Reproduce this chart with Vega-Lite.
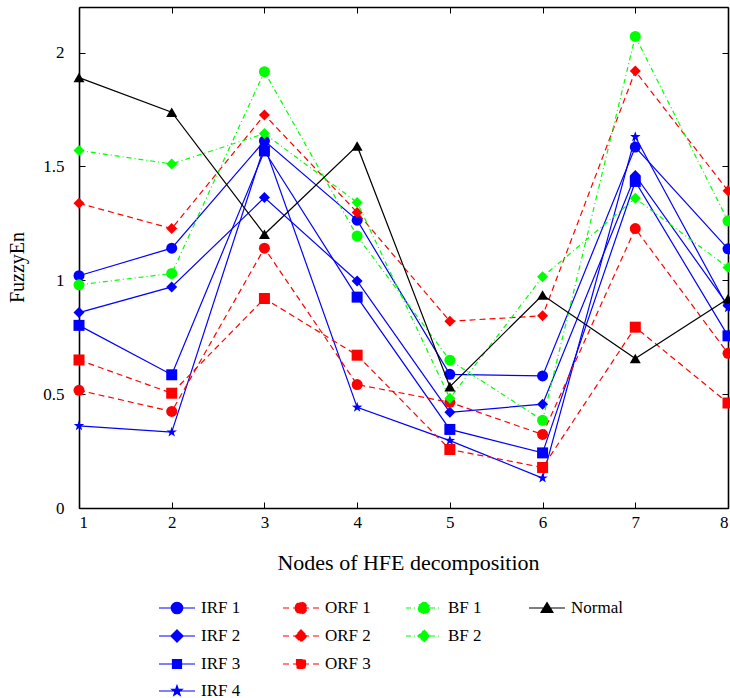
{
  "$schema": "https://vega.github.io/schema/vega-lite/v6.json",
  "width": 649,
  "height": 501,
  "autosize": {"type": "none"},
  "padding": {"left": 79, "top": 7, "right": 2, "bottom": 190},
  "background": "white",
  "data": {"values": [
    {"node":1,"series":"IRF 1","family":"IRF","v":1.02},{"node":2,"series":"IRF 1","family":"IRF","v":1.141},{"node":3,"series":"IRF 1","family":"IRF","v":1.612},{"node":4,"series":"IRF 1","family":"IRF","v":1.264},{"node":5,"series":"IRF 1","family":"IRF","v":0.587},{"node":6,"series":"IRF 1","family":"IRF","v":0.58},{"node":7,"series":"IRF 1","family":"IRF","v":1.585},{"node":8,"series":"IRF 1","family":"IRF","v":1.138},
    {"node":1,"series":"IRF 2","family":"IRF","v":0.858},{"node":2,"series":"IRF 2","family":"IRF","v":0.971},{"node":3,"series":"IRF 2","family":"IRF","v":1.363},{"node":4,"series":"IRF 2","family":"IRF","v":0.997},{"node":5,"series":"IRF 2","family":"IRF","v":0.42},{"node":6,"series":"IRF 2","family":"IRF","v":0.456},{"node":7,"series":"IRF 2","family":"IRF","v":1.46},{"node":8,"series":"IRF 2","family":"IRF","v":0.89},
    {"node":1,"series":"IRF 3","family":"IRF","v":0.802},{"node":2,"series":"IRF 3","family":"IRF","v":0.585},{"node":3,"series":"IRF 3","family":"IRF","v":1.568},{"node":4,"series":"IRF 3","family":"IRF","v":0.926},{"node":5,"series":"IRF 3","family":"IRF","v":0.345},{"node":6,"series":"IRF 3","family":"IRF","v":0.242},{"node":7,"series":"IRF 3","family":"IRF","v":1.434},{"node":8,"series":"IRF 3","family":"IRF","v":0.756},
    {"node":1,"series":"IRF 4","family":"IRF","v":0.361},{"node":2,"series":"IRF 4","family":"IRF","v":0.333},{"node":3,"series":"IRF 4","family":"IRF","v":1.59},{"node":4,"series":"IRF 4","family":"IRF","v":0.442},{"node":5,"series":"IRF 4","family":"IRF","v":0.296},{"node":6,"series":"IRF 4","family":"IRF","v":0.131},{"node":7,"series":"IRF 4","family":"IRF","v":1.63},{"node":8,"series":"IRF 4","family":"IRF","v":0.879},
    {"node":1,"series":"ORF 1","family":"ORF","v":0.517},{"node":2,"series":"ORF 1","family":"ORF","v":0.424},{"node":3,"series":"ORF 1","family":"ORF","v":1.141},{"node":4,"series":"ORF 1","family":"ORF","v":0.542},{"node":5,"series":"ORF 1","family":"ORF","v":0.464},{"node":6,"series":"ORF 1","family":"ORF","v":0.323},{"node":7,"series":"ORF 1","family":"ORF","v":1.227},{"node":8,"series":"ORF 1","family":"ORF","v":0.679},
    {"node":1,"series":"ORF 2","family":"ORF","v":1.338},{"node":2,"series":"ORF 2","family":"ORF","v":1.227},{"node":3,"series":"ORF 2","family":"ORF","v":1.726},{"node":4,"series":"ORF 2","family":"ORF","v":1.298},{"node":5,"series":"ORF 2","family":"ORF","v":0.82},{"node":6,"series":"ORF 2","family":"ORF","v":0.844},{"node":7,"series":"ORF 2","family":"ORF","v":1.919},{"node":8,"series":"ORF 2","family":"ORF","v":1.393},
    {"node":1,"series":"ORF 3","family":"ORF","v":0.65},{"node":2,"series":"ORF 3","family":"ORF","v":0.504},{"node":3,"series":"ORF 3","family":"ORF","v":0.92},{"node":4,"series":"ORF 3","family":"ORF","v":0.671},{"node":5,"series":"ORF 3","family":"ORF","v":0.257},{"node":6,"series":"ORF 3","family":"ORF","v":0.178},{"node":7,"series":"ORF 3","family":"ORF","v":0.794},{"node":8,"series":"ORF 3","family":"ORF","v":0.461},
    {"node":1,"series":"BF 1","family":"BF","v":0.98},{"node":2,"series":"BF 1","family":"BF","v":1.03},{"node":3,"series":"BF 1","family":"BF","v":1.916},{"node":4,"series":"BF 1","family":"BF","v":1.194},{"node":5,"series":"BF 1","family":"BF","v":0.649},{"node":6,"series":"BF 1","family":"BF","v":0.385},{"node":7,"series":"BF 1","family":"BF","v":2.071},{"node":8,"series":"BF 1","family":"BF","v":1.261},
    {"node":1,"series":"BF 2","family":"BF","v":1.57},{"node":2,"series":"BF 2","family":"BF","v":1.511},{"node":3,"series":"BF 2","family":"BF","v":1.644},{"node":4,"series":"BF 2","family":"BF","v":1.342},{"node":5,"series":"BF 2","family":"BF","v":0.482},{"node":6,"series":"BF 2","family":"BF","v":1.015},{"node":7,"series":"BF 2","family":"BF","v":1.36},{"node":8,"series":"BF 2","family":"BF","v":1.056},
    {"node":1,"series":"Normal","family":"Normal","v":1.89},{"node":2,"series":"Normal","family":"Normal","v":1.738},{"node":3,"series":"Normal","family":"Normal","v":1.202},{"node":4,"series":"Normal","family":"Normal","v":1.59},{"node":5,"series":"Normal","family":"Normal","v":0.533},{"node":6,"series":"Normal","family":"Normal","v":0.935},{"node":7,"series":"Normal","family":"Normal","v":0.656},{"node":8,"series":"Normal","family":"Normal","v":0.919}
  ]},
  "layer": [
    {
      "transform": [{"filter": "datum.family === 'IRF'"}],
      "encoding": {
        "x": {"field": "node", "type": "quantitative", "scale": {"domain": [1, 8], "nice": false, "zero": false},
              "axis": {"orient": "bottom", "values": [1,2,3,4,5,6,7,8], "title": "Nodes of HFE decomposition", "labelFont": "Liberation Serif", "titleFont": "Liberation Serif", "titleFontSize": 22, "labelPadding": 12, "titlePadding": 22, "titleX": 329}},
        "y": {"field": "v", "type": "quantitative", "scale": {"domain": [0, 2.2], "nice": false},
              "axis": {"orient": "left", "values": [0,0.5,1,1.5,2], "format": "~g", "title": "FuzzyEn", "labelFont": "Liberation Serif", "titleFont": "Liberation Serif", "titleFontSize": 20, "labelPadding": 21, "titlePadding": 15, "titleY": 260}}
      },
      "layer": [
        {"mark": {"type": "line", "color": "#0000ff", "strokeWidth": 1.2}, "encoding": {"detail": {"field": "series"}}},
        {"mark": {"type": "point", "filled": true, "opacity": 1, "size": 121},
         "encoding": {
           "shape": {"field": "series", "type": "nominal", "legend": null,
             "scale": {"range": ["circle","diamond","square","M0,-1L0.235,-0.324L0.951,-0.309L0.38,0.124L0.588,0.809L0,0.4L-0.588,0.809L-0.38,0.124L-0.951,-0.309L-0.235,-0.324Z"]}},
           "color": {"field": "series", "type": "nominal",
             "scale": {"domain": ["IRF 1","IRF 2","IRF 3","IRF 4"], "range": ["#0000ff","#0000ff","#0000ff","#0000ff"]},
             "legend": {"title": null, "orient": "none", "legendX": 79, "legendY": 582, "direction": "vertical", "labelFont": "Liberation Serif",
               "symbolStrokeColor": "#0000ff", "symbolFillColor": "#0000ff", "symbolOpacity": 1,
               "symbolType": {"expr": "indexof(datum.value,'1')>=0 ? 'M-1,0H1M-0.32,0A0.32,0.32 0 1,0 0.32,0A0.32,0.32 0 1,0 -0.32,0Z' : indexof(datum.value,'2')>=0 ? 'M-1,0H1M0,-0.34L0.34,0L0,0.34L-0.34,0Z' : indexof(datum.value,'3')>=0 ? 'M-1,0H1M-0.25,-0.25H0.25V0.25H-0.25Z' : 'M-1,0H1M0,-0.3L0.071,-0.097L0.285,-0.093L0.114,0.037L0.176,0.243L0,0.12L-0.176,0.243L-0.114,0.037L-0.285,-0.093L-0.071,-0.097Z'"}}}
         }}
      ]
    },
    {
      "transform": [{"filter": "datum.family === 'ORF'"}],
      "encoding": {
        "x": {"field": "node", "type": "quantitative", "axis": null},
        "y": {"field": "v", "type": "quantitative", "axis": null}
      },
      "layer": [
        {"mark": {"type": "line", "color": "#ff0000", "strokeWidth": 1.2, "strokeDash": [6, 4]}, "encoding": {"detail": {"field": "series"}}},
        {"mark": {"type": "point", "filled": true, "opacity": 1, "size": 121},
         "encoding": {
           "shape": {"field": "series", "type": "nominal", "legend": null,
             "scale": {"range": ["circle","diamond","square"]}},
           "color": {"field": "series", "type": "nominal",
             "scale": {"domain": ["ORF 1","ORF 2","ORF 3"], "range": ["#ff0000","#ff0000","#ff0000"]},
             "legend": {"title": null, "orient": "none", "legendX": 203, "legendY": 582, "direction": "vertical", "labelFont": "Liberation Serif",
               "symbolStrokeColor": "#ff0000", "symbolFillColor": "#ff0000", "symbolOpacity": 1, "symbolDash": [6, 4],
               "symbolType": {"expr": "indexof(datum.value,'1')>=0 ? 'M-1,0H1M-0.32,0A0.32,0.32 0 1,0 0.32,0A0.32,0.32 0 1,0 -0.32,0Z' : indexof(datum.value,'2')>=0 ? 'M-1,0H1M0,-0.34L0.34,0L0,0.34L-0.34,0Z' : 'M-1,0H1M-0.25,-0.25H0.25V0.25H-0.25Z'"}}}
         }}
      ]
    },
    {
      "transform": [{"filter": "datum.family === 'BF'"}],
      "encoding": {
        "x": {"field": "node", "type": "quantitative", "axis": null},
        "y": {"field": "v", "type": "quantitative", "axis": null}
      },
      "layer": [
        {"mark": {"type": "line", "color": "#00ff00", "strokeWidth": 1.2, "strokeDash": [5, 3, 1, 3]}, "encoding": {"detail": {"field": "series"}}},
        {"mark": {"type": "point", "filled": true, "opacity": 1, "size": 121},
         "encoding": {
           "shape": {"field": "series", "type": "nominal", "legend": null,
             "scale": {"range": ["circle","diamond"]}},
           "color": {"field": "series", "type": "nominal",
             "scale": {"domain": ["BF 1","BF 2"], "range": ["#00ff00","#00ff00"]},
             "legend": {"title": null, "orient": "none", "legendX": 326, "legendY": 582, "direction": "vertical", "labelFont": "Liberation Serif",
               "symbolStrokeColor": "#00ff00", "symbolFillColor": "#00ff00", "symbolOpacity": 1, "symbolDash": [5, 3, 1, 3],
               "symbolType": {"expr": "indexof(datum.value,'1')>=0 ? 'M-1,0H1M-0.32,0A0.32,0.32 0 1,0 0.32,0A0.32,0.32 0 1,0 -0.32,0Z' : 'M-1,0H1M0,-0.34L0.34,0L0,0.34L-0.34,0Z'"}}}
         }}
      ]
    },
    {
      "transform": [{"filter": "datum.family === 'Normal'"}],
      "encoding": {
        "x": {"field": "node", "type": "quantitative",
              "axis": {"orient": "top", "values": [1,2,3,4,5,6,7,8], "labels": false, "title": null}},
        "y": {"field": "v", "type": "quantitative",
              "axis": {"orient": "right", "values": [0,0.5,1,1.5,2], "labels": false, "title": null}}
      },
      "layer": [
        {"mark": {"type": "line", "color": "#000000", "strokeWidth": 1.2}, "encoding": {"detail": {"field": "series"}}},
        {"mark": {"type": "point", "filled": true, "opacity": 1, "size": 121, "shape": "triangle-up"},
         "encoding": {
           "color": {"field": "series", "type": "nominal",
             "scale": {"domain": ["Normal"], "range": ["#000000"]},
             "legend": {"title": null, "orient": "none", "legendX": 449, "legendY": 582, "direction": "vertical", "labelFont": "Liberation Serif",
               "symbolStrokeColor": "#000000", "symbolFillColor": "#000000", "symbolOpacity": 1,
               "symbolType": "M-1,0H1M0,-0.3L0.33,0.24L-0.33,0.24Z"}}
         }}
      ]
    }
  ],
  "resolve": {
    "scale": {"shape": "independent", "color": "independent"},
    "axis": {"x": "independent", "y": "independent"}
  },
  "config": {
    "font": "Liberation Serif",
    "view": {"stroke": null},
    "style": {"guide-label": {"font": "Liberation Serif"}, "guide-title": {"font": "Liberation Serif"}},
    "axis": {
      "domainColor": "#000000", "domainWidth": 1.6,
      "tickColor": "#000000", "tickSize": -6, "tickWidth": 1,
      "grid": false,
      "labelFont": "Liberation Serif", "labelFontSize": 17, "labelColor": "#000000",
      "titleFont": "Liberation Serif", "titleFontSize": 20, "titleFontWeight": "normal", "titleColor": "#000000"
    },
    "legend": {
      "labelFont": "Liberation Serif", "labelFontSize": 17, "labelColor": "#000000",
      "symbolSize": 1296, "symbolStrokeWidth": 1.2, "labelOffset": 5,
      "padding": 0, "rowPadding": 0
    }
  }
}
